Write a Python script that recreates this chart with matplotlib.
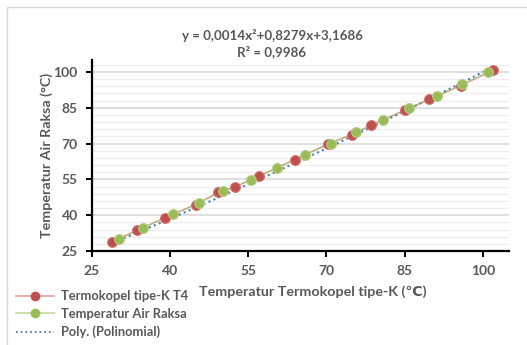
#Import Libraries
import matplotlib
matplotlib.use("Agg")
import matplotlib.pyplot as plt
from matplotlib.patches import Rectangle
import numpy as np

#Data
termokopel_x = [28.9, 33.7, 39.0, 44.9, 49.3, 52.4, 57.0, 63.9, 70.2, 74.9, 78.6, 85.0, 89.7, 95.7, 102.0]
termokopel_y = [28.9, 33.7, 38.9, 44.4, 49.7, 51.7, 56.3, 63.3, 69.8, 73.7, 77.7, 83.9, 88.5, 94.3, 100.7]
raksa_x = [30.2, 34.8, 40.6, 45.5, 50.2, 55.5, 60.6, 65.9, 70.8, 75.7, 80.8, 85.9, 91.2, 96.0, 101.0]
raksa_y = [30.0, 34.7, 40.3, 45.1, 50.0, 54.8, 59.8, 65.2, 70.0, 74.9, 79.9, 85.0, 89.9, 94.8, 100.0]
poly_coef = [0.0014, 0.8279, 3.1686]   #trendline from the chart equation
ticks = [25, 40, 55, 70, 85, 100]

gray = "#595959"
red = "#c0504d"
green = "#9bbb59"
plt.rcParams['font.family'] = ['Lato', 'DejaVu Sans']

fig = plt.figure(figsize=(5.27, 3.45), dpi=100)
ax = fig.add_axes([0.174, 0.2725, 0.792, 0.5535])

#Chart border
fig.patches.append(Rectangle((7/527, -0.1), 1.2, 1 - 7/345 + 0.1, transform=fig.transFigure,
                             fill=False, edgecolor="#d9d9d9", linewidth=1.0))

#Trendline
xt = np.linspace(min(raksa_x), max(raksa_x), 200)
yt = np.polyval(poly_coef, xt)

#Connecting lines (light) then markers
ax.plot(termokopel_x, termokopel_y, color=red, lw=1.0, alpha=0.55, zorder=3)
ax.plot(raksa_x, raksa_y, color=green, lw=1.0, alpha=0.55, zorder=3)
ax.plot(termokopel_x, termokopel_y, ls="none", marker="o", markersize=7,
        markerfacecolor=red, markeredgecolor="#d0706e", markeredgewidth=0.8, zorder=4)
ax.plot(raksa_x, raksa_y, ls="none", marker="o", markersize=7,
        markerfacecolor=green, markeredgecolor="#b0cc80", markeredgewidth=0.8, zorder=5)
ax.plot(xt, yt, color="#4a7ebb", lw=1.5, ls=(0, (1, 1.6)), zorder=2)

#Legend proxies
h1, = ax.plot([], [], color="#e8a09e", lw=1.2, marker="o", markersize=6,
              markerfacecolor=red, markeredgecolor=red, label="Termokopel tipe-K T4")
h2, = ax.plot([], [], color="#c4d9a0", lw=1.2, marker="o", markersize=6,
              markerfacecolor=green, markeredgecolor=green, label="Temperatur Air Raksa")
h3, = ax.plot([], [], color="#4a7ebb", lw=1.3, ls=(0, (1, 1.6)), label="Poly. (Polinomial)")

#Axes
ax.set_xlim(25, 105)
ax.set_ylim(25, 105)
ax.set_xticks(ticks)
ax.set_yticks(ticks)
ax.set_yticks(np.arange(28, 105, 3), minor=True)
ax.grid(axis="y", which="major", color="#d9d9d9", lw=1.2)
ax.grid(axis="y", which="minor", color="#eeeeee", lw=1.0)
ax.set_axisbelow(True)
for s in ["top", "right"]:
    ax.spines[s].set_visible(False)
for s in ["left", "bottom"]:
    ax.spines[s].set_linewidth(1.6)
ax.tick_params(which="major", length=4, width=1.4, colors="black", labelcolor=gray,
               labelsize=10, pad=6)
ax.tick_params(which="minor", length=0)
for lab in ax.get_xticklabels() + ax.get_yticklabels():
    lab.set_fontweight("bold")

fig.text(46.5/527, 1 - 155/345, "Temperatur Air Raksa (°C)", fontsize=10.3, rotation=90,
         fontweight="bold", color=gray, ha="center", va="center")
fig.text(313/527, 1 - 292/345, "Temperatur Termokopel tipe-K (℃)", fontsize=10.3,
         fontweight="bold", color=gray, ha="center", va="center")

#Equation
fig.text(272/527, 1 - 35/345, "y = 0,0014x²+0,8279x+3,1686", fontsize=9.6,
         fontweight="bold", color=gray, ha="center", va="center")
fig.text(272/527, 1 - 52/345, "R² = 0,9986", fontsize=9.6,
         fontweight="bold", color=gray, ha="center", va="center")

leg = fig.legend(handles=[h1, h2, h3], loc="upper left", bbox_to_anchor=(0.02, 1 - 285/345),
                 frameon=False, fontsize=9.3, handlelength=3.0, handletextpad=0.5,
                 labelspacing=0.45, borderaxespad=0)
for t in leg.get_texts():
    t.set_color(gray)
    t.set_fontweight("bold")

fig.savefig("out.png", dpi=100)
